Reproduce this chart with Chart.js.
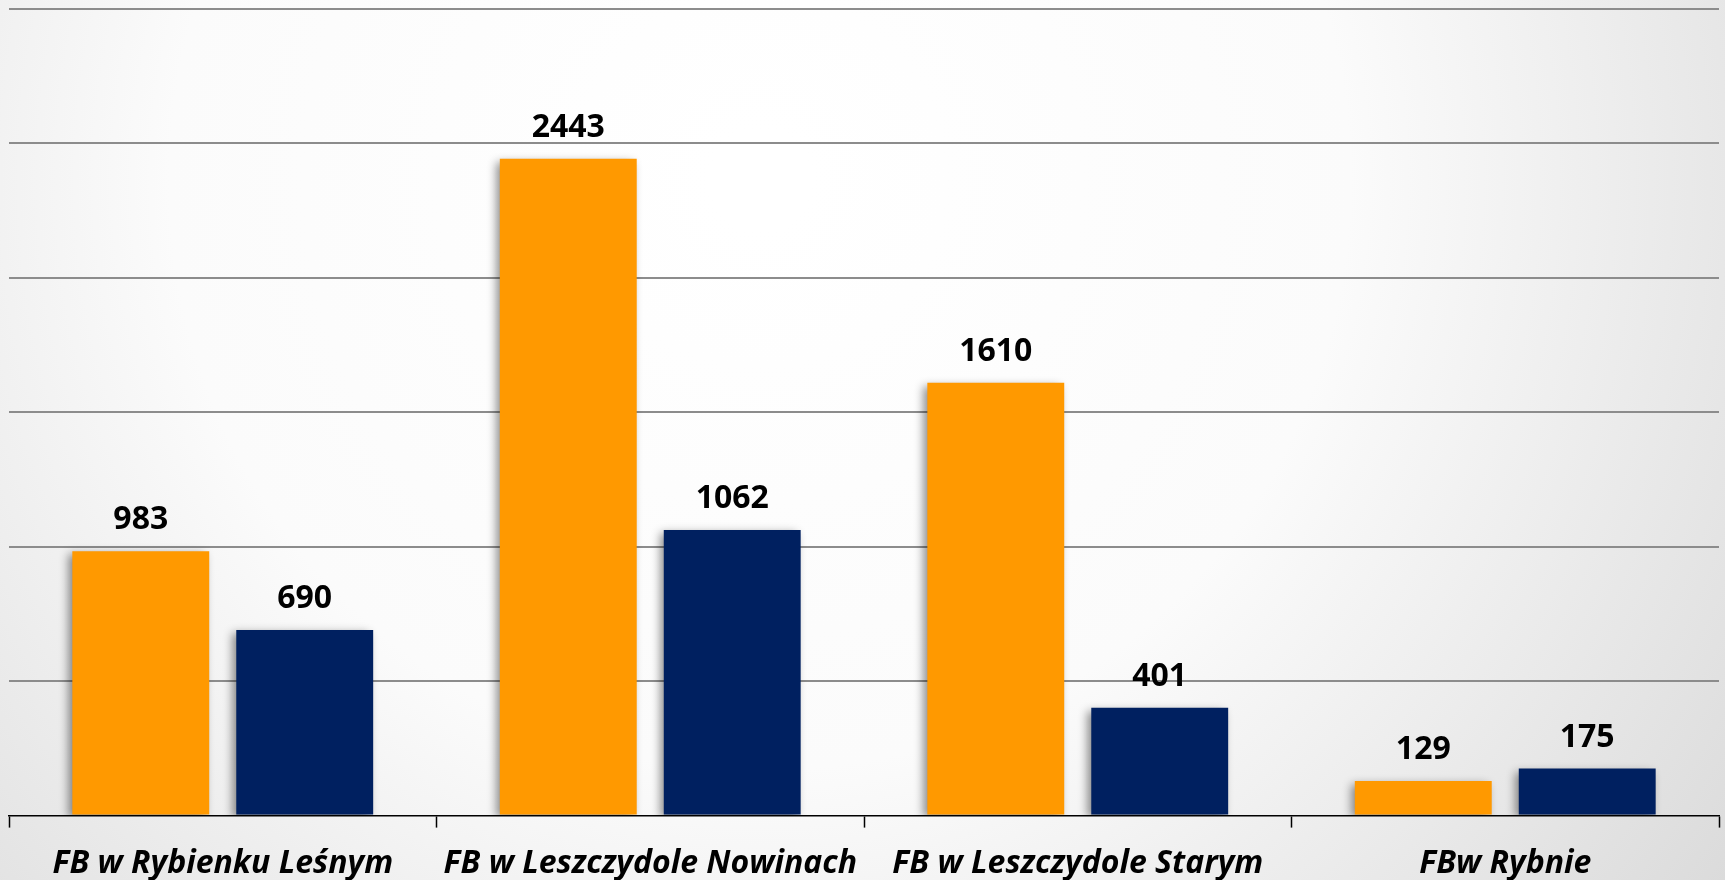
<!DOCTYPE html>
<html>
<head>
<meta charset="utf-8">
<script src="https://cdn.jsdelivr.net/npm/chart.js@4.4.0/dist/chart.umd.min.js"></script>
<style>
  html, body { margin: 0; padding: 0; background: #fff; }
  #wrap { width: 1725px; height: 880px; position: relative; }
</style>
</head>
<body>
<div id="wrap"><canvas id="fbChart"></canvas></div>
<script>
var categories = ['FB w Rybienku Leśnym', 'FB w Leszczydole Nowinach', 'FB w Leszczydole Starym', 'FBw Rybnie'];
var seriesA = [983, 2443, 1610, 129];
var seriesB = [690, 1062, 401, 175];
var yTicks = [0, 500, 1000, 1500, 2000, 2500, 3000];

// soft grey vignette behind the chart
var bgPlugin = {
  id: 'bg',
  beforeDraw: function (chart) {
    var ctx = chart.ctx;
    var w = chart.width, h = chart.height;
    var g = ctx.createRadialGradient(760, 180, 50, 760, 180, 1250);
    g.addColorStop(0, '#ffffff');
    g.addColorStop(0.45, '#fbfbfb');
    g.addColorStop(1, '#d8d8d8');
    ctx.save();
    ctx.fillStyle = g;
    ctx.fillRect(0, 0, w, h);
    ctx.restore();
  }
};

// drop shadow on the bars
var shadowPlugin = {
  id: 'barShadow',
  beforeDatasetsDraw: function (chart) {
    var ctx = chart.ctx;
    ctx.save();
    ctx.shadowColor = 'rgba(0,0,0,0.45)';
    ctx.shadowBlur = 9;
    ctx.shadowOffsetX = -4;
    ctx.shadowOffsetY = 3;
  },
  afterDatasetsDraw: function (chart) {
    chart.ctx.restore();
  }
};

// value labels above bars
var valuePlugin = {
  id: 'values',
  afterDraw: function (chart) {
    var ctx = chart.ctx;
    ctx.save();
    ctx.font = 'bold 32px "Open Sans"';
    ctx.fillStyle = '#000';
    ctx.textAlign = 'center';
    ctx.textBaseline = 'alphabetic';
    chart.data.datasets.forEach(function (ds, i) {
      chart.getDatasetMeta(i).data.forEach(function (bar, j) {
        ctx.fillText(ds.data[j], bar.x, bar.y - 22);
      });
    });
    ctx.restore();
  }
};

var ctx = document.getElementById('fbChart');
var fbChart = new Chart(ctx, {
  type: 'bar',
  data: {
    labels: categories,
    datasets: [{
      label: 'Seria 1',
      data: seriesA,
      backgroundColor: '#ff9900',
      borderWidth: 0
    }, {
      label: 'Seria 2',
      data: seriesB,
      backgroundColor: '#002060',
      borderWidth: 0
    }]
  },
  options: {
    responsive: true,
    maintainAspectRatio: false,
    animation: false,
    categoryPercentage: 0.767,
    barPercentage: 0.835,
    layout: {
      padding: { left: 9, right: 6, top: 9, bottom: -20 }
    },
    plugins: {
      legend: { display: false },
      tooltip: { enabled: false }
    },
    scales: {
      x: {
        grid: {
          drawOnChartArea: false,
          drawTicks: true,
          tickLength: 12,
          tickColor: '#000',
          tickWidth: 1.5
        },
        border: { display: true, color: '#000', width: 1.5 },
        ticks: {
          color: '#000',
          padding: 17,
          maxRotation: 0,
          font: { family: '"Open Sans"', size: 32, weight: 'bold', style: 'italic', lineHeight: 1.2 }
        }
      },
      y: {
        min: yTicks[0],
        max: yTicks[yTicks.length - 1],
        afterBuildTicks: function (scale) {
          scale.ticks = yTicks.map(function (v) { return { value: v }; });
        },
        ticks: { display: false },
        border: { display: false },
        grid: {
          drawTicks: false,
          lineWidth: 2,
          color: function (c) { return c.tick && c.tick.value === 0 ? 'rgba(0,0,0,0)' : '#8c8c8c'; }
        }
      }
    }
  },
  plugins: [bgPlugin, shadowPlugin, valuePlugin]
});
</script>
</body>
</html>
